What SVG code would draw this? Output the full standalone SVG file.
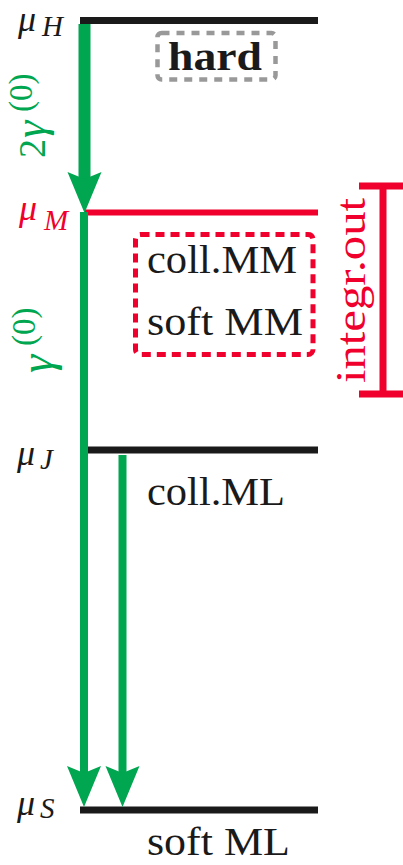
<svg xmlns="http://www.w3.org/2000/svg" xmlns:xlink="http://www.w3.org/1999/xlink" width="403" height="865" viewBox="0 0 403 865">
<style>
text{font-family:"Liberation Serif","DejaVu Serif",serif;}
.lbl{font-size:41px;fill:#1a1a1a;}
.mu{font-style:italic;font-size:36px;}
.sub{font-style:italic;font-size:29px;}
.blk{fill:#1a1a1a;}
.red{fill:#f0002c;}
.grn{fill:#00a650;}
.level{stroke:#1a1a1a;stroke-width:7;}
.shaft{stroke:#00a650;}
</style>
<defs>
<path id="head" d="M0,0 L-17,-41 L0,-34 L17,-41 Z" fill="#00a650"/>
</defs>
<g id="level-H">
<line class="level" x1="80" y1="20.5" x2="318" y2="20.5"/>
<text class="blk mu" x="18" y="31" font-size="33">μ</text>
<text class="blk sub" x="42" y="36">H</text>
</g>
<g id="hard">
<rect x="157.5" y="33" width="118" height="46.5" rx="4" fill="none" stroke="#999" stroke-width="4.5" stroke-dasharray="8 7"/>
<text class="lbl" x="168" y="70" font-weight="bold" textLength="94" lengthAdjust="spacingAndGlyphs">hard</text>
</g>
<g id="level-M">
<line x1="84" y1="212.5" x2="318" y2="212.5" stroke="#f0002c" stroke-width="6"/>
<text class="red mu" x="19" y="220">μ</text>
<text class="red sub" x="44" y="230">M</text>
</g>
<g id="mm-box">
<rect x="135.5" y="234.5" width="177.5" height="120" rx="5" fill="none" stroke="#f0002c" stroke-width="5" stroke-dasharray="9 6"/>
<text class="lbl" x="147" y="273" textLength="150" lengthAdjust="spacingAndGlyphs">coll.MM</text>
<text class="lbl" x="147" y="335" textLength="156" lengthAdjust="spacingAndGlyphs">soft MM</text>
</g>
<g id="integr-out">
<path d="M359,186 H403 M383,186 V394 M359,394 H403" fill="none" stroke="#f0002c" stroke-width="7"/>
<text class="red" font-size="42" transform="translate(365,383) rotate(-90)" textLength="185" lengthAdjust="spacingAndGlyphs">integr.out</text>
</g>
<g id="level-J">
<line class="level" x1="80" y1="450" x2="318" y2="450"/>
<text class="blk mu" x="17" y="465">μ</text>
<text class="blk sub" x="40" y="469">J</text>
<text class="lbl" x="147" y="505" textLength="138" lengthAdjust="spacingAndGlyphs">coll.ML</text>
</g>
<g id="level-S">
<line class="level" x1="80" y1="810" x2="318" y2="810"/>
<text class="blk mu" x="17" y="815">μ</text>
<text class="blk sub" x="40" y="818">S</text>
<text class="lbl" x="147" y="855" textLength="143" lengthAdjust="spacingAndGlyphs">soft ML</text>
</g>
<g id="connectors">
<line class="shaft" x1="84.5" y1="24" x2="84.5" y2="182" stroke-width="12"/>
<use xlink:href="#head" x="84.5" y="213"/>
<line class="shaft" x1="84" y1="212" x2="84" y2="778" stroke-width="8"/>
<use xlink:href="#head" x="84" y="807"/>
<line class="shaft" x1="122.5" y1="455" x2="122.5" y2="778" stroke-width="8"/>
<use xlink:href="#head" x="122.5" y="807"/>
<text class="grn" transform="translate(45,160) rotate(-90)"><tspan x="2" y="0" font-size="38">2</tspan><tspan x="22" y="0" font-size="44" font-style="italic">γ</tspan><tspan x="48" y="-13" font-size="33">(0)</tspan></text>
<text class="grn" transform="translate(52,373) rotate(-90)"><tspan x="0" y="0" font-size="46" font-style="italic">γ</tspan><tspan x="27" y="-17" font-size="33">(0)</tspan></text>
</g>
</svg>
